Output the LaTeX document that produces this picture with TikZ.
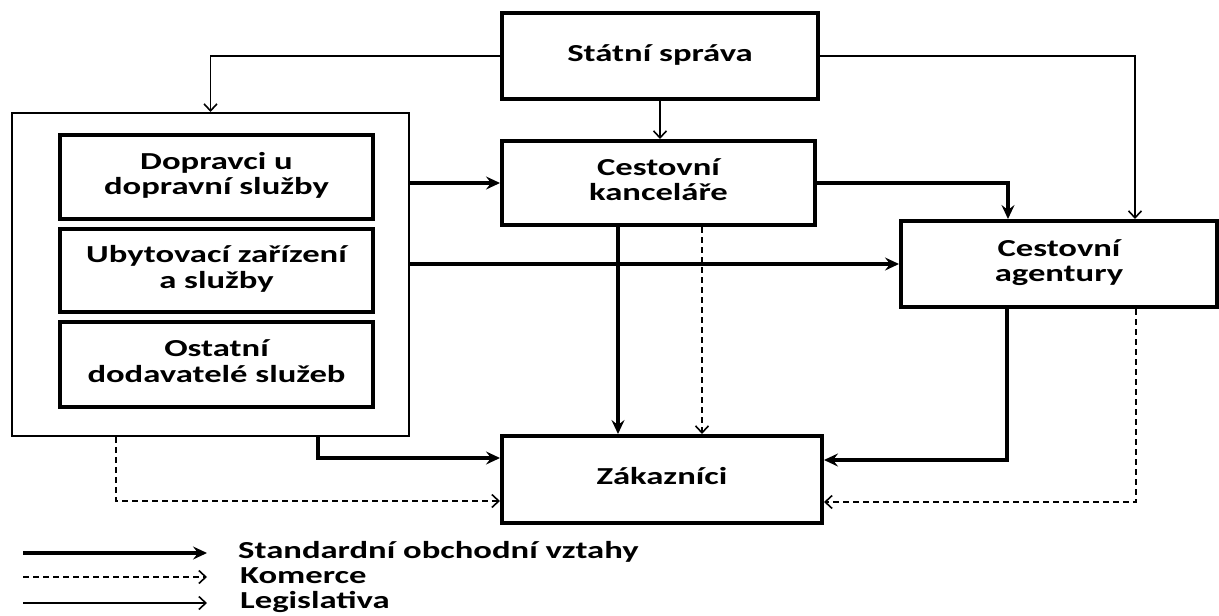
\documentclass[tikz,border=0pt]{standalone}
\usepackage{fontspec}
\usepackage{graphicx}
\setmainfont{Carlito}
\usetikzlibrary{arrows.meta,calc}
\newcommand\stretchtxt[1]{\scalebox{1.42}[1]{\begin{tabular}{@{}c@{}}#1\end{tabular}}}
\begin{document}
\begin{tikzpicture}[x=1pt,y=-1pt,
  font=\fontsize{24.4}{25.3}\selectfont\bfseries,
  mainbox/.style={draw,line width=4pt,inner sep=0pt,align=center},
  outerbox/.style={draw,line width=2pt,inner sep=0pt},
  stdarrow/.style={line width=3.5pt,-{Stealth[length=14pt,width=13pt,inset=5pt]}},
  comarrow/.style={line width=1.8pt,dash pattern=on 6pt off 4pt,-{Straight Barb[length=7pt,width=13pt,line width=1.6pt]}},
  legarrow/.style={line width=1.8pt,-{Straight Barb[length=7pt,width=13pt,line width=1.6pt]}}]
\useasboundingbox (0,0) rectangle (1219,616);

% nodes
\node[mainbox,minimum width=316pt,minimum height=86pt] (st) at (660,56) {\stretchtxt{Státní správa}};
\node[outerbox,minimum width=397pt,minimum height=323pt] (outer) at (210.5,274.5) {};
\node[mainbox,minimum width=313pt,minimum height=84pt] (dop) at (216.5,177) {\stretchtxt{Dopravci u\\dopravní služby}};
\node[mainbox,minimum width=313pt,minimum height=83pt] (uby) at (216.5,270.5) {\stretchtxt{Ubytovací zařízení\\a služby}};
\node[mainbox,minimum width=313pt,minimum height=85pt] (ost) at (216.5,364.5) {\stretchtxt{Ostatní\\dodavatelé služeb}};
\node[mainbox,minimum width=313pt,minimum height=84pt] (kan) at (658.5,183) {\stretchtxt{Cestovní\\kanceláře}};
\node[mainbox,minimum width=316pt,minimum height=86pt] (ag) at (1059,264) {\stretchtxt{Cestovní\\agentury}};
\node[mainbox,minimum width=320pt,minimum height=87pt] (zak) at (662,479.5) {\stretchtxt{Zákazníci}};

% legislation
\draw[legarrow] (st.west) -| (outer.north);
\draw[legarrow] (st.south) -- (st.south |- kan.north);
\draw[legarrow] (st.east) -| ([xshift=76pt]ag.north);

% standard relations
\draw[stdarrow] (outer.east |- kan.west) -- (kan.west);
\draw[stdarrow] (kan.east) -| ([xshift=-51pt]ag.north);
\draw[stdarrow] (outer.east |- ag.west) -- (ag.west);
\draw[stdarrow] ([xshift=-40.5pt]kan.south) -- ([xshift=-40.5pt]kan.south |- zak.north);
\draw[stdarrow] ([xshift=107.5pt]outer.south) |- ([yshift=21.5pt]zak.west);
\draw[stdarrow] ([xshift=-52pt]ag.south) |- ([yshift=19.5pt]zak.east);

% commerce
\draw[comarrow] ([xshift=43.5pt]kan.south) -- ([xshift=43.5pt]kan.south |- zak.north);
\draw[comarrow] ([xshift=-94.5pt]outer.south) |- ([yshift=-21.5pt]zak.west);
\draw[comarrow] ([xshift=77pt]ag.south) |- ([yshift=-22.5pt]zak.east);

% legend
\coordinate (l1a) at (23,553); \coordinate (l1b) at (207,553);
\coordinate (l2a) at (23,577); \coordinate (l2b) at (207,577);
\coordinate (l3a) at (23,603); \coordinate (l3b) at (207,603);
\draw[stdarrow] (l1a) -- (l1b);
\draw[comarrow] (l2a) -- (l2b);
\draw[legarrow] (l3a) -- (l3b);
\node[anchor=west,inner sep=0pt] (t1) at (238,553) {\stretchtxt{Standardní obchodní vztahy}};
\node[anchor=west,inner sep=0pt] (t2) at (240,578) {\stretchtxt{Komerce}};
\node[anchor=west,inner sep=0pt] (t3) at (240,603) {\stretchtxt{Legislativa}};
\end{tikzpicture}
\end{document}
